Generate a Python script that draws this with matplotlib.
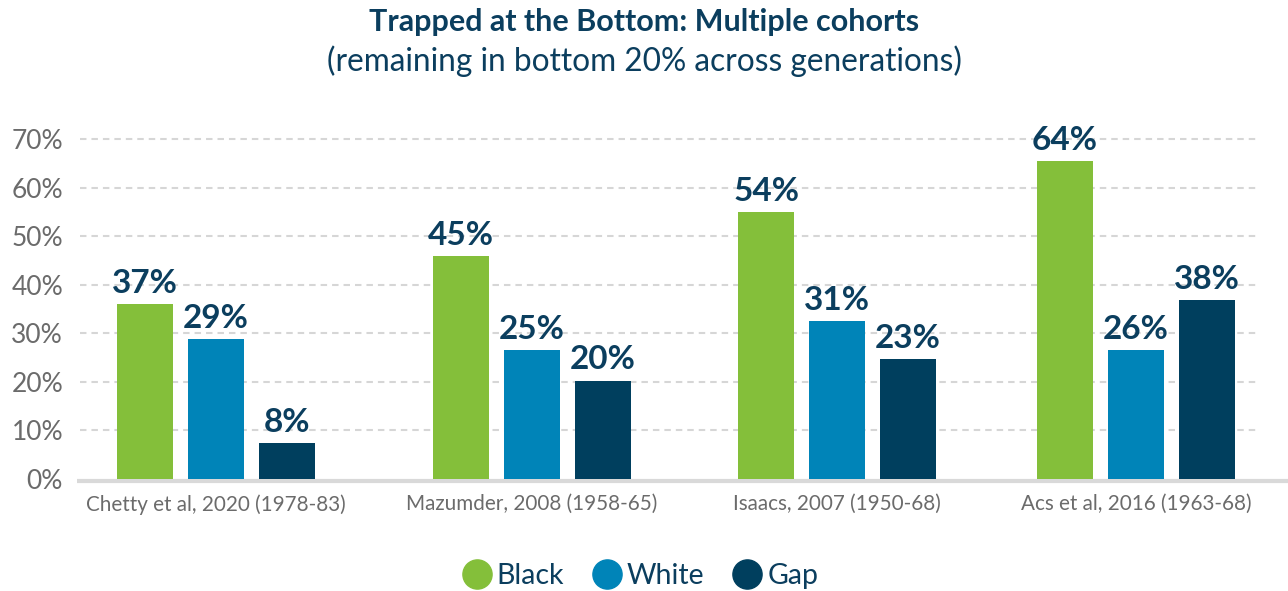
import matplotlib
matplotlib.use("Agg")
import matplotlib.pyplot as plt
from matplotlib.lines import Line2D
import numpy as np

# ---- data ----
categories = ["Chetty et al, 2020 (1978-83)", "Mazumder, 2008 (1958-65)",
              "Isaacs, 2007 (1950-68)", "Acs et al, 2016 (1963-68)"]
series_names = ["Black", "White", "Gap"]
black_vals = [36.0, 45.9, 54.9, 65.4]
white_vals = [28.8, 26.5, 32.5, 26.5]
gap_vals = [7.4, 20.2, 24.7, 36.8]
black_labels = ["37%", "45%", "54%", "64%"]
white_labels = ["29%", "25%", "31%", "26%"]
gap_labels = ["8%", "20%", "23%", "38%"]
yticks = [0, 10, 20, 30, 40, 50, 60, 70]
ytick_labels = ["0%", "10%", "20%", "30%", "40%", "50%", "60%", "70%"]

colors = ["#84bf3a", "#0084b8", "#003f5e"]
navy = "#0b3e5e"
gray = "#6b6b6b"

plt.rcParams['font.family'] = ['Lato', 'DejaVu Sans']

W, H = 1288, 591
fig = plt.figure(figsize=(W / 100, H / 100), dpi=100)
ax = fig.add_axes([77 / W, (H - 479) / H, 1185 / W, (479 - 139) / H])

step = 306.7
# group centre layout (slightly uneven spacing as in the original)
x = np.array([0.0, 1.03, 2.025, 3.0])
bw = 56 / step
off = 71 / step
ax.set_xlim((77 - 216) / step, (1262 - 216) / step)
ax.set_ylim(0, 70)

series = [black_vals, white_vals, gap_vals]
labels = [black_labels, white_labels, gap_labels]
for i, (vals, lbls) in enumerate(zip(series, labels)):
    xs = x + (i - 1) * off
    ax.bar(xs, vals, width=bw, color=colors[i], zorder=3, linewidth=0)
    for xx, v, l in zip(xs, vals, lbls):
        ax.annotate(l, (xx, v), xytext=(0, 8.3), textcoords="offset points",
                    ha="center", va="baseline", fontsize=24,
                    fontweight="bold", color=navy, zorder=4,
                    annotation_clip=False)

# grid
for yv in yticks[1:]:
    ax.plot([(80 - 216) / step, (1260 - 216) / step], [yv, yv],
            color="#d6d6d6", lw=1.5, linestyle=(0, (3.1, 2.4)), zorder=1,
            clip_on=False)
# baseline
ax.plot([(77 - 216) / step, (1288 - 216) / step], [-0.4, -0.4],
        color="#d9d9d9", lw=3.0, zorder=2, clip_on=False,
        solid_capstyle="butt")

for s in ax.spines.values():
    s.set_visible(False)
ax.set_yticks(yticks)
ax.set_yticklabels(ytick_labels)
ax.tick_params(axis="y", length=0, pad=10, labelsize=19, labelcolor=gray)
ax.set_xticks(x)
ax.set_xticklabels(categories)
ax.tick_params(axis="x", length=0, pad=11, labelsize=14.9, labelcolor=gray)

fig.text(0.5, 1 - 22 / H, "Trapped at the Bottom: Multiple cohorts",
         ha="center", va="center", fontsize=22, fontweight="bold", color=navy)
fig.text(0.5, 1 - 61 / H, "(remaining in bottom 20% across generations)",
         ha="center", va="center", fontsize=22.8, color=navy)

handles = [Line2D([], [], marker="o", linestyle="none", markersize=21,
                  markerfacecolor=c, markeredgecolor=c) for c in colors]
fig.legend(handles, series_names, loc="center",
           bbox_to_anchor=(639 / W, 1 - 576 / H), ncol=3, frameon=False,
           fontsize=20.5, labelcolor=navy, handletextpad=0.1,
           columnspacing=0.9, handlelength=1.2)

fig.savefig("out.png", dpi=100)
